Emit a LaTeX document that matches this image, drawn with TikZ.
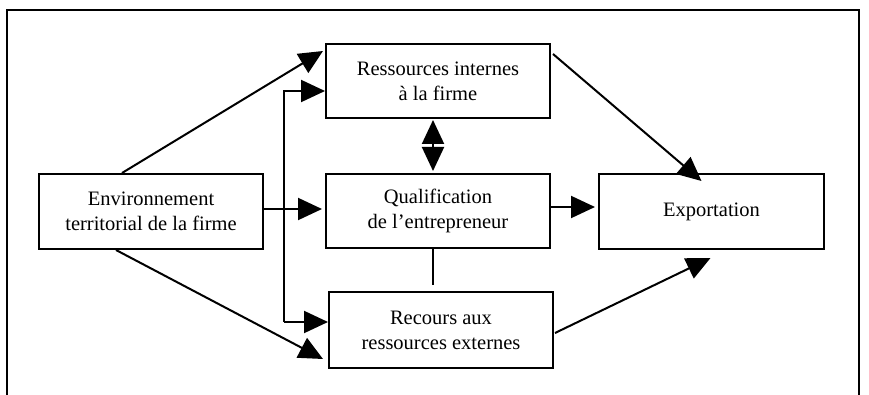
\documentclass[tikz,border=0pt]{standalone}
\usepackage{fontspec}
\setmainfont{Liberation Serif}
\usetikzlibrary{arrows.meta,calc}
\begin{document}
\begin{tikzpicture}[x=1pt,y=-1pt,
  box/.style={draw,line width=2pt,align=center,inner sep=0pt,
    font=\fontsize{20.5}{25}\selectfont},
  arr/.style={line width=2pt,-{Triangle[length=24pt,width=22pt]}},
  dbl/.style={line width=2pt,{Triangle[length=24pt,width=22pt]}-{Triangle[length=24pt,width=22pt]}},
  ln/.style={line width=2pt}]
\useasboundingbox (0,0) rectangle (869,395);
\draw[line width=1.6pt] (7,395) -- (7,10) -- (859,10) -- (859,395);
\node[box,minimum width=224pt,minimum height=75pt] (env) at (151,211.5) {Environnement\\territorial de la firme};
\node[box,minimum width=224pt,minimum height=74pt] (res) at (438,81) {Ressources internes\\à la firme};
\node[box,minimum width=224pt,minimum height=74pt] (qual) at (438,211) {Qualification\\de l’entrepreneur};
\node[box,minimum width=224pt,minimum height=76pt] (rec) at (441,330) {Recours aux\\ressources externes};
\node[box,minimum width=225pt,minimum height=75pt] (exp) at (711.5,211.5) {Exportation};
\coordinate (bus) at (284,0);
\coordinate (rtop) at ([yshift=-10pt]res.west);
\coordinate (rbot) at ([yshift=8pt]rec.west);
\coordinate (qend) at ([xshift=-5pt,yshift=-36pt]qual.south);
% environment diagonals
\draw[arr] ([xshift=-29pt]env.north) -- ([xshift=-2pt,yshift=-8pt]res.north west);
\draw[arr] ([xshift=-35pt]env.south) -- ([xshift=-5pt,yshift=10pt]rec.south west);
% environment to qualification
\draw[arr,shorten >=3pt] ([yshift=2.5pt]env.east) -- ([yshift=2pt]qual.west);
% bus
\draw[arr] (rbot -| bus) |- (rtop);
\draw[arr] (rbot -| bus) -- (rbot);
% ressources <-> qualification
\draw[dbl,shorten <=1pt,shorten >=2pt] ([xshift=-5pt]res.south) -- ([xshift=-5pt]qual.north);
\draw[ln] ([xshift=-5pt]qual.south) -- (qend);
% to exportation
\draw[arr] ([xshift=2pt,yshift=-11pt]res.north east) -- ([xshift=-10pt,yshift=-8pt]exp.north);
\draw[arr,shorten >=3pt] ([yshift=4pt]qual.east) -- ([yshift=4.5pt]exp.west);
\draw[arr] ([xshift=1pt,yshift=-3pt]rec.east) -- ([xshift=-1pt,yshift=-8pt]exp.south);
\end{tikzpicture}
\end{document}
